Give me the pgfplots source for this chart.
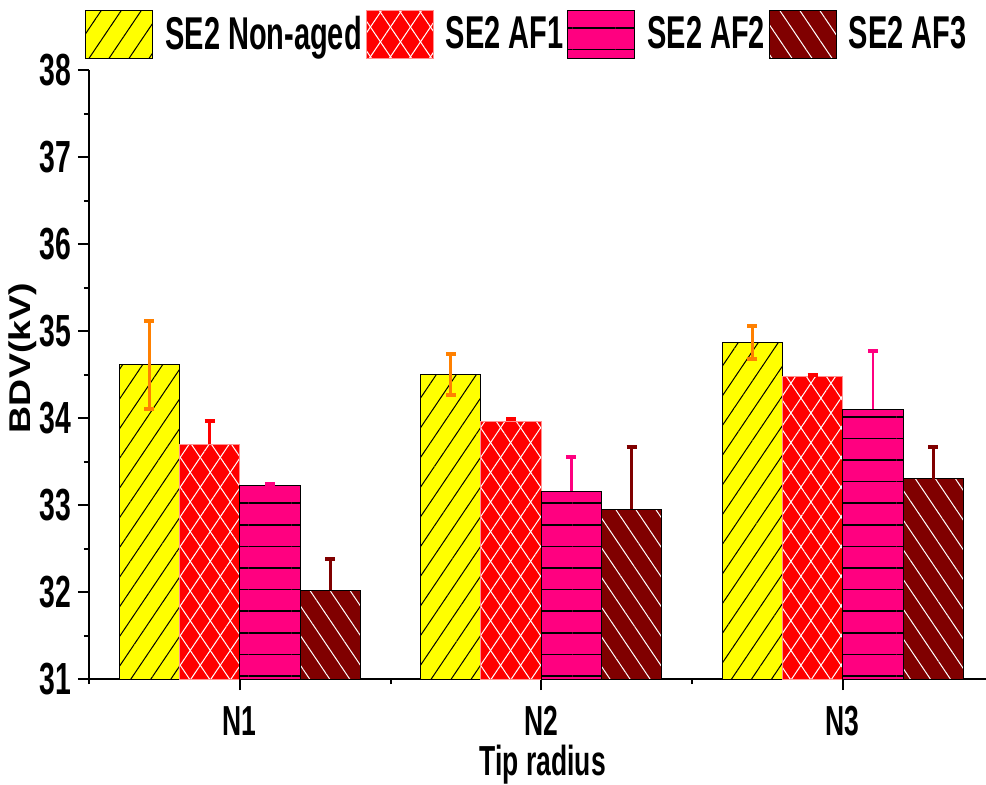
\documentclass[border=0pt]{standalone}
\usepackage{pgfplots}
\pgfplotsset{compat=1.18}
\usetikzlibrary{patterns.meta}
\usepackage{fontspec}
\setmainfont{Liberation Sans}[FakeStretch=0.63]
\newfontfamily\ylabfont{Liberation Sans}[FakeStretch=1.25]
\definecolor{cyel}{HTML}{FFFF00}
\definecolor{cred}{HTML}{FF0000}
\definecolor{cpink}{HTML}{FF0080}
\definecolor{cdark}{HTML}{800000}
\definecolor{corange}{HTML}{FF8000}
\definecolor{credline}{HTML}{FF9090}
\newcommand{\xf}{\fontsize{21}{21}\selectfont\bfseries}
\pgfplotsset{
  mybox/.style={legend image code/.code={\draw[##1] (0pt,-12pt) rectangle (33.5pt,12pt);}},
}
\begin{document}
\begin{tikzpicture}
\begin{axis}[
  at={(0,0)}, anchor=south west,
  scale only axis, width=448.5pt, height=304.5pt,
  xmin=0.5, xmax=3.475, ymin=31, ymax=38,
  axis lines*=left,
  axis line style={line width=1pt},
  xtick={1,2,3}, xticklabels={{\xf N1},{\xf N2},{\xf N3}},
  minor xtick={0.5,1.5,2.5},
  ytick={31,32,33,34,35,36,37,38}, minor ytick={31.5,32.5,33.5,34.5,35.5,36.5,37.5},
  tick align=outside, major tick length=5.5pt, minor tick length=2.5pt,
  every tick/.style={line width=1pt, black},
  /pgf/number format/assume math mode=true,
  yticklabel style={font=\fontsize{22.5}{22.5}\selectfont\bfseries},
  xticklabel style={anchor=center, yshift=-15.5pt},
  xlabel={\xf Tip radius},
  xlabel style={at={(axis description cs:0.506,0)}, anchor=base, yshift=-48pt},
  ylabel={\ylabfont\fontsize{15}{15}\selectfont\bfseries BDV(kV)},
  ylabel style={at={(axis description cs:-0.0735,0.527)}, anchor=center},
  legend columns=4,
  legend style={at={(axis description cs:-0.0045,1.059)}, anchor=west, draw=none, fill=none, inner sep=0pt,
    font=\fontsize{23}{23}\selectfont\bfseries, nodes={inner xsep=0pt, inner ysep=0pt},
    /tikz/every odd column/.append style={column sep=6pt},
    /tikz/every even column/.append style={column sep=2pt}},
]
\addplot[ybar, bar width=0.2, bar shift=-0.3, fill=cyel, draw=black, line width=0.5pt,
  postaction={pattern={Lines[angle=56,distance=8.3pt,line width=0.5pt]}, pattern color=black}, mybox]
  coordinates {(1,34.61) (2,34.50) (3,34.87)};
\addlegendentry{SE2 Non-aged}
\addplot[ybar, bar width=0.2, bar shift=-0.1, fill=cred, draw=credline, line width=0.5pt,
  postaction={pattern={Lines[angle=56,distance=8.3pt,line width=0.5pt]}, pattern color=white},
  postaction={pattern={Lines[angle=-56,distance=8.3pt,line width=0.5pt]}, pattern color=white}, mybox]
  coordinates {(1,33.70) (2,33.96) (3,34.48)};
\addlegendentry{SE2 AF1}
\addplot[ybar, bar width=0.2, bar shift=0.1, fill=cpink, draw=black, line width=0.5pt,
  postaction={pattern={Lines[angle=0,distance=10.8pt,line width=0.8pt]}, pattern color=black}, mybox]
  coordinates {(1,33.22) (2,33.16) (3,34.10)};
\addlegendentry{SE2 AF2}
\addplot[ybar, bar width=0.2, bar shift=0.3, fill=cdark, draw=black, line width=0.5pt,
  postaction={pattern={Lines[angle=-56,distance=8.3pt,line width=0.5pt]}, pattern color=white}, mybox]
  coordinates {(1,32.02) (2,32.95) (3,33.30)};
\addlegendentry{SE2 AF3}
% error bars
\addplot[forget plot, draw=none, mark=none,
  error bars/.cd, y dir=both, y explicit,
  error bar style={draw=corange, line width=1.4pt},
  error mark options={draw=corange, rotate=90, mark size=2.5pt, line width=2pt}]
  coordinates {(0.7,34.61) +- (0,0.51) (1.7,34.50) +- (0,0.24) (2.7,34.87) +- (0,0.19)};
\addplot[forget plot, draw=none, mark=none,
  error bars/.cd, y dir=plus, y explicit,
  error bar style={draw=cred, line width=1.4pt},
  error mark options={draw=cred, rotate=90, mark size=2.5pt, line width=2pt}]
  coordinates {(0.9,33.70) +- (0,0.27) (1.9,33.96) +- (0,0.03) (2.9,34.48) +- (0,0.02)};
\addplot[forget plot, draw=none, mark=none,
  error bars/.cd, y dir=plus, y explicit,
  error bar style={draw=cpink, line width=1.4pt},
  error mark options={draw=cpink, rotate=90, mark size=2.5pt, line width=2pt}]
  coordinates {(1.1,33.22) +- (0,0.02) (2.1,33.16) +- (0,0.39) (3.1,34.10) +- (0,0.67)};
\addplot[forget plot, draw=none, mark=none,
  error bars/.cd, y dir=plus, y explicit,
  error bar style={draw=cdark, line width=1.4pt},
  error mark options={draw=cdark, rotate=90, mark size=2.5pt, line width=2pt}]
  coordinates {(1.3,32.02) +- (0,0.36) (2.3,32.95) +- (0,0.72) (3.3,33.30) +- (0,0.37)};
\end{axis}
\pgfresetboundingbox
\path[use as bounding box] (-44.5pt,-52.5pt) rectangle (448.5pt,339.5pt);
\end{tikzpicture}
\end{document}
